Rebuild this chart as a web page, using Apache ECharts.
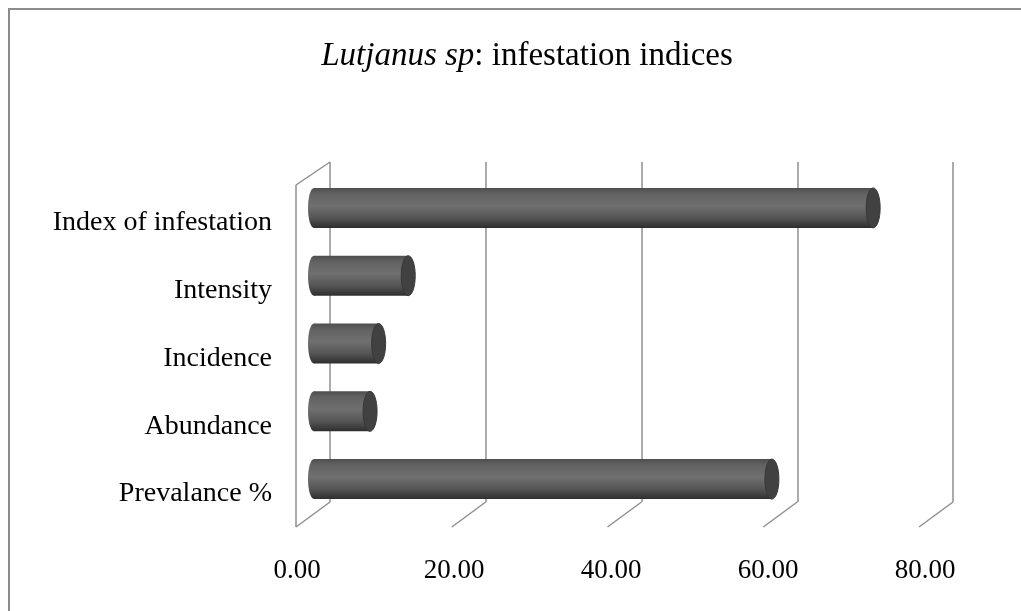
<!DOCTYPE html>
<html>
<head>
<meta charset="utf-8">
<script src="https://cdn.jsdelivr.net/npm/echarts@6/dist/echarts.min.js"></script>
<style>
  html, body { margin: 0; padding: 0; background: #fff; }
  #chart { width: 1021px; height: 611px; }
</style>
</head>
<body>
<div id="chart"></div>
<script>
// data
const categories = ['Index of infestation', 'Intensity', 'Incidence', 'Abundance', 'Prevalance %'];
const values = [71.8, 12.1, 8.3, 7.2, 58.8];
const ticks = [0, 20, 40, 60, 80];

const FONT = '"Liberation Serif", "Times New Roman", serif';
const chart = echarts.init(document.getElementById('chart'));

// depth offset of the 3D box (back -> front)
const DX = -34, DY = 25;

// cylinder bars
function renderCylinder(params, api) {
  const cat = api.value(0);
  const val = api.value(1);
  const p0 = api.coord([0, cat]);
  const p1 = api.coord([val, cat]);
  const h = 40, rx = 6;
  const grad = new echarts.graphic.LinearGradient(0, 0, 0, 1, [
    {offset: 0, color: '#4e4e4e'},
    {offset: 0.15, color: '#626262'},
    {offset: 0.45, color: '#707070'},
    {offset: 0.75, color: '#555555'},
    {offset: 1, color: '#2e2e2e'}
  ]);
  return {
    type: 'group',
    children: [
      {type: 'ellipse', shape: {cx: p0[0], cy: p0[1], rx: rx, ry: h / 2}, style: {fill: grad}},
      {type: 'rect', shape: {x: p0[0], y: p0[1] - h / 2, width: p1[0] - p0[0], height: h}, style: {fill: grad}},
      {type: 'ellipse', shape: {cx: p1[0], cy: p1[1], rx: rx + 1, ry: h / 2},
        style: {fill: '#414141', stroke: '#383838', lineWidth: 1}}
    ]
  };
}

// floor diagonals + left wall of the box
function renderFrame(params, api) {
  const v = api.value(0);
  const bot = api.coord([v, 0]);
  const top = api.coord([v, 1]);
  const lineStyle = {stroke: '#8f8f8f', lineWidth: 1.5, fill: null};
  const children = [
    {type: 'line', shape: {x1: bot[0], y1: bot[1], x2: bot[0] + DX, y2: bot[1] + DY}, style: lineStyle}
  ];
  if (v === 0) {
    children.push(
      {type: 'line', shape: {x1: top[0], y1: top[1], x2: top[0] + DX, y2: top[1] + DY - 2}, style: lineStyle},
      {type: 'line', shape: {x1: top[0] + DX, y1: top[1] + DY - 2, x2: bot[0] + DX, y2: bot[1] + DY}, style: lineStyle}
    );
  }
  return {type: 'group', children: children};
}

let option = {
  backgroundColor: '#fff',
  animation: false,
  title: {
    text: '{i|Lutjanus sp}{n|: infestation indices}',
    left: 522,
    top: 35,
    textAlign: 'center',
    textStyle: {
      fontWeight: 'normal',
      rich: {
        i: {fontFamily: FONT, fontSize: 33, fontStyle: 'italic', fontWeight: 'normal', color: '#000'},
        n: {fontFamily: FONT, fontSize: 33, fontWeight: 'normal', color: '#000'}
      }
    }
  },
  graphic: [
    {type: 'polyline', shape: {points: [[9, 611], [9, 9], [1021, 9]]},
      style: {stroke: '#8c8c8c', lineWidth: 2, fill: null}, silent: true}
  ],
  grid: [
    // back wall
    {left: 330, right: 68, top: 162, bottom: 109},
    // bars (middle depth)
    {left: 314, right: 84, top: 174, bottom: 98},
    // category labels
    {left: 314, right: 84, top: 189, bottom: 83},
    // value labels (front edge)
    {left: 297, right: 96, top: 187, bottom: 84}
  ],
  xAxis: [
    {gridIndex: 0, type: 'value', min: 0, max: 80, interval: 20,
      axisLine: {show: false}, axisTick: {show: false}, axisLabel: {show: false},
      splitLine: {show: true, lineStyle: {color: '#8f8f8f', width: 1.5}}},
    {gridIndex: 1, type: 'value', min: 0, max: 80, show: false},
    {gridIndex: 2, type: 'value', min: 0, max: 80, show: false},
    {gridIndex: 3, type: 'value', min: 0, max: 80, interval: 20,
      axisLine: {show: false}, axisTick: {show: false}, splitLine: {show: false},
      axisLabel: {
        margin: 30, color: '#000', fontFamily: FONT, fontSize: 27,
        formatter: v => v.toFixed(2)
      }}
  ],
  yAxis: [
    {gridIndex: 0, type: 'value', min: 0, max: 1, show: false},
    {gridIndex: 1, type: 'category', data: categories, inverse: true, show: false},
    {gridIndex: 2, type: 'category', data: categories, inverse: true,
      axisLine: {show: false}, axisTick: {show: false},
      axisLabel: {margin: 42, color: '#000', fontFamily: FONT, fontSize: 28}},
    {gridIndex: 3, type: 'value', show: false}
  ],
  series: [
    {
      type: 'custom',
      xAxisIndex: 0, yAxisIndex: 0,
      renderItem: renderFrame,
      data: ticks.map(t => [t]),
      silent: true,
      z: 1
    },
    {
      type: 'custom',
      xAxisIndex: 1, yAxisIndex: 1,
      renderItem: renderCylinder,
      data: categories.map((c, i) => [i, values[i]]),
      z: 3
    }
  ]
};
option && chart.setOption(option);
</script>
</body>
</html>
